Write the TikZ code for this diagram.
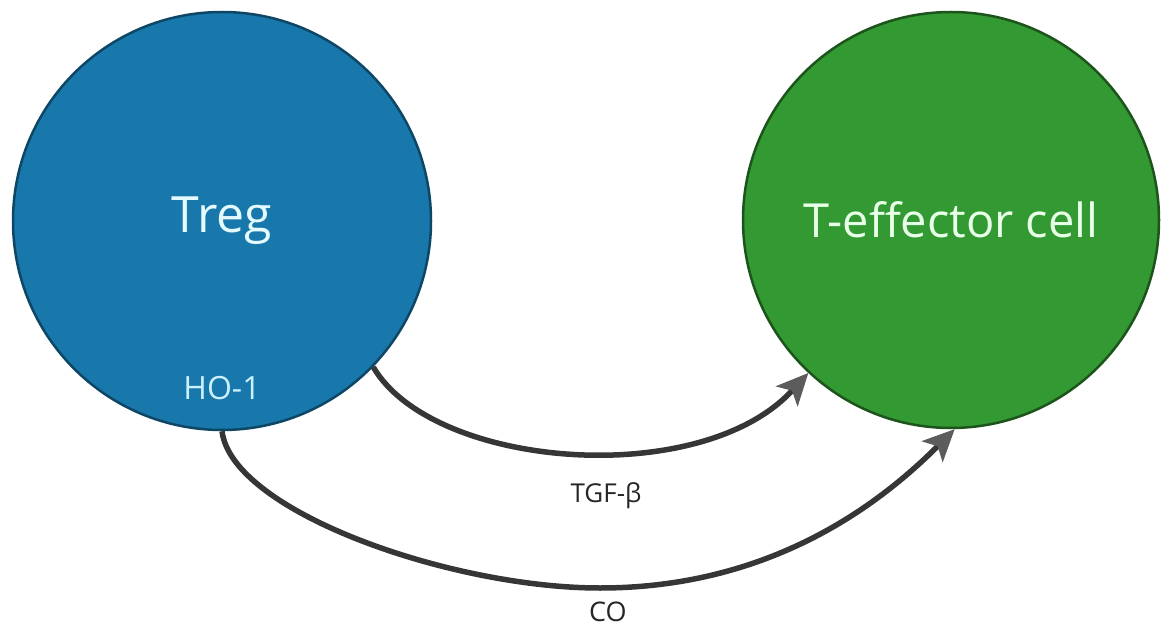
\documentclass[tikz,border=0pt]{standalone}
\usepackage{fontspec}
\setmainfont{Open Sans}
\usetikzlibrary{arrows.meta}

\definecolor{tregblue}{RGB}{24,120,171}
\definecolor{tregrim}{RGB}{14,70,102}
\definecolor{teffgreen}{RGB}{51,153,51}
\definecolor{teffrim}{RGB}{28,84,28}
\definecolor{linkgray}{RGB}{54,54,54}
\definecolor{tipgray}{RGB}{92,92,92}

\begin{document}
\begin{tikzpicture}[x=1pt, y=1pt,
    cell/.style={circle, inner sep=0pt, line width=2.5pt},
    link/.style={line width=5.5pt, draw=linkgray,
      -{Stealth[length=32pt, width=30pt, inset=8pt, line width=1pt, color=tipgray]}},
    lab/.style={text=black!85, inner sep=0pt}]
  \useasboundingbox (0, 0) rectangle (1162, 630);

  % the two cells
  \node[cell, fill=tregblue, draw=tregrim, minimum size=418pt,
        text={rgb,255:red,228;green,250;blue,255},
        font=\fontsize{50}{60}\selectfont] (treg) at (222, 409) {Treg};
  \node[cell, fill=teffgreen, draw=teffrim, minimum size=416pt,
        text={rgb,255:red,232;green,255;blue,232},
        font=\fontsize{47}{56}\selectfont] (teff) at (951, 410) {T-effector cell};
  \node[text={rgb,255:red,205;green,240;blue,255},
        font=\fontsize{32}{38}\selectfont] (ho) at (222, 242) {HO-1};

  % signals
  \draw[link] (treg.-44) .. controls +(60, -102) and +(-108, -117) .. (teff.227);
  \coordinate (cobot) at (600, 42);
  \draw[link] (treg.-90) .. controls +(10, -80) and +(-150, 0) .. (cobot)
                         .. controls +(130, 0) and +(-110, -110) .. (teff.-89);

  \node[lab, font=\fontsize{26}{31}\selectfont] (tgf) at (606, 134) {TGF-β};
  \node[lab, font=\fontsize{27}{32}\selectfont] (co) at (608, 18) {CO};
\end{tikzpicture}
\end{document}
